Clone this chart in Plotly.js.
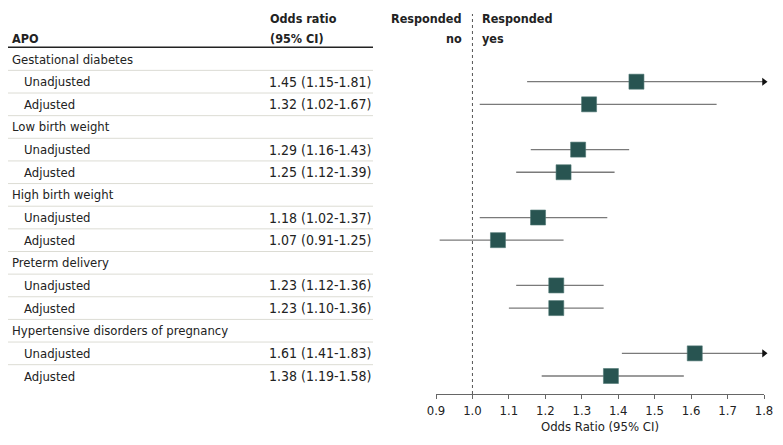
<!DOCTYPE html>
<html>
<head>
<meta charset="utf-8">
<script src="https://cdn.plot.ly/plotly-3.0.1.min.js"></script>
<style>html,body{margin:0;padding:0;background:#fff;}#chart{width:783px;height:445px;}</style>
</head>
<body>
<div id="chart"></div>
<script>
// ---- data ----
const groups = ["Gestational diabetes", "Low birth weight", "High birth weight", "Preterm delivery", "Hypertensive disorders of pregnancy"];
const models = ["Unadjusted", "Adjusted"];
const oddsRatio = [1.45, 1.32, 1.29, 1.25, 1.18, 1.07, 1.23, 1.23, 1.61, 1.38];
const ciLow     = [1.15, 1.02, 1.16, 1.12, 1.02, 0.91, 1.12, 1.10, 1.41, 1.19];
const ciHigh    = [1.81, 1.67, 1.43, 1.39, 1.37, 1.25, 1.36, 1.36, 1.83, 1.58];
const xTicks = [0.9, 1.0, 1.1, 1.2, 1.3, 1.4, 1.5, 1.6, 1.7, 1.8];

// ---- layout constants ----
const W = 783, H = 445;
const FONT = '"DejaVu Sans Condensed", "Liberation Sans Narrow", "Liberation Sans", sans-serif';
const FS = 13;
const XMAX = 1.8;
const px = v => v / W; // pixel -> paper x

const rowOf = (g, m) => g * 3 + 1 + m;
const nRows = groups.length * 3;

const annotations = [];
const shapes = [];
const tf = {family:FONT, size:FS, color:'#222'};
const hf = {family:FONT, size:12.5, color:'#222'};
const vf = {family:FONT, size:14, color:'#222'};

// header
annotations.push({xref:'paper', yref:'y', x:px(10), y:-0.93, xanchor:'left', text:'<b>APO</b>', showarrow:false, font:hf});
annotations.push({xref:'paper', yref:'y', x:px(268), y:-1.81, xanchor:'left', text:'<b>Odds ratio</b>', showarrow:false, font:hf});
annotations.push({xref:'paper', yref:'y', x:px(268), y:-0.93, xanchor:'left', text:'<b>(95% CI)</b>', showarrow:false, font:hf});
annotations.push({xref:'paper', yref:'y', x:px(464), y:-1.81, xanchor:'right', text:'<b>Responded</b>', showarrow:false, font:hf});
annotations.push({xref:'paper', yref:'y', x:px(464), y:-0.93, xanchor:'right', text:'<b>no</b>', showarrow:false, font:hf});
annotations.push({xref:'paper', yref:'y', x:px(480), y:-1.81, xanchor:'left', text:'<b>Responded</b>', showarrow:false, font:hf});
annotations.push({xref:'paper', yref:'y', x:px(480), y:-0.93, xanchor:'left', text:'<b>yes</b>', showarrow:false, font:hf});
shapes.push({type:'line', xref:'paper', yref:'y', x0:px(8), x1:px(373), y0:-0.52, y1:-0.52, line:{color:'#222', width:1.6}});

const errX = [], errY = [], ptX = [], ptY = [], arX = [], arY = [];
groups.forEach((g, gi) => {
  annotations.push({xref:'paper', yref:'y', x:px(10), y:gi*3, xanchor:'left', text:g, showarrow:false, font:tf});
  models.forEach((m, mi) => {
    const k = gi*2 + mi, r = rowOf(gi, mi);
    annotations.push({xref:'paper', yref:'y', x:px(22), y:r, xanchor:'left', text:m, showarrow:false, font:tf});
    annotations.push({xref:'paper', yref:'y', x:px(373), y:r, xanchor:'right',
      text: oddsRatio[k].toFixed(2) + ' (' + ciLow[k].toFixed(2) + '-' + ciHigh[k].toFixed(2) + ')',
      showarrow:false, font:vf});
    errX.push(ciLow[k], Math.min(ciHigh[k], XMAX), null);
    errY.push(r, r, null);
    ptX.push(oddsRatio[k]); ptY.push(r);
    if (ciHigh[k] > XMAX) { arX.push(XMAX); arY.push(r); }
  });
});
for (let i = 0; i < nRows - 1; i++) {
  shapes.push({type:'line', xref:'paper', yref:'y', x0:px(8), x1:px(373), y0:i+0.5, y1:i+0.5, line:{color:'#dcdcd4', width:1}});
}
shapes.push({type:'line', xref:'x', yref:'paper', x0:1, x1:1, y0:0, y1:1, line:{color:'#555', width:1, dash:'dot'}});

const traces = [
  {type:'scatter', mode:'lines', x:errX, y:errY, line:{color:'#7a7a7a', width:1.3}, hoverinfo:'skip', cliponaxis:false},
  {type:'scatter', mode:'markers', x:arX, y:arY, marker:{symbol:'triangle-right', size:7, color:'#111'}, cliponaxis:false, hoverinfo:'skip'},
  {type:'scatter', mode:'markers', x:ptX, y:ptY, marker:{symbol:'square', size:15, color:'#285451', line:{color:'#4f7773', width:0.6}}, cliponaxis:false}
];

const layout = {
  width: W, height: H,
  margin: {l:0, r:0, t:14, b:51},
  paper_bgcolor:'#fff', plot_bgcolor:'#fff',
  showlegend:false,
  font:{family:FONT, size:FS, color:'#222'},
  xaxis: {
    domain:[436/W, 764/W], range:[0.9, 1.8], tickvals:xTicks,
    ticktext: xTicks.map(v => v.toFixed(1)),
    showgrid:false, zeroline:false, showline:true, linecolor:'#666', linewidth:1,
    ticks:'outside', ticklen:4, tickcolor:'#666',
    tickfont:{family:FONT, size:FS, color:'#222'},
    title:{text:'Odds Ratio (95% CI)', font:{family:FONT, size:FS, color:'#222'}, standoff:5},
    fixedrange:true
  },
  yaxis: {
    range:[14.795, -1.99], visible:false, showgrid:false, zeroline:false, fixedrange:true
  },
  annotations: annotations,
  shapes: shapes
};

Plotly.newPlot('chart', traces, layout, {displayModeBar:false, staticPlot:true});
</script>
</body>
</html>
